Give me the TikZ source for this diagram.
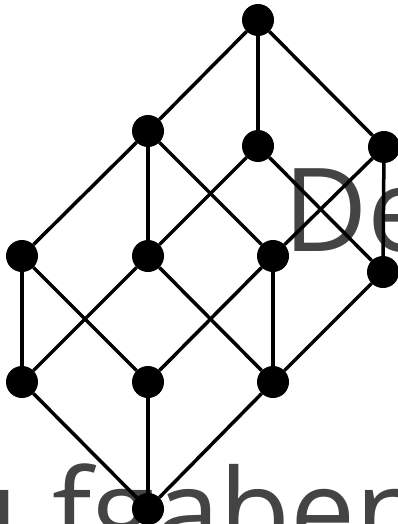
\documentclass[tikz,border=0pt]{standalone}
\usepackage{fontspec}
\setmainfont{Open Sans}
\definecolor{txtgray}{HTML}{444444}
\begin{document}
\begin{tikzpicture}[x=1pt,y=-1pt,
  dot/.style={circle,fill=black,minimum size=32pt,inner sep=0pt},
  edge/.style={line width=3.5pt,black},
  bigtext/.style={text=txtgray,font=\fontsize{116}{116}\selectfont,inner sep=0pt}]
\useasboundingbox (0,0) rectangle (398,524);
\clip (0,0) rectangle (398,524);
\node[bigtext,anchor=base west] (t1) at (283,251) {De};
\node[bigtext,anchor=base east] (t2) at (19,552) {u};
\node[bigtext,anchor=base west] (t3) at (52,552) {fgaben};
\node[dot] (a) at (258,20) {};
\node[dot] (b1) at (148,131) {};
\node[dot] (b2) at (258,146) {};
\node[dot] (b3) at (384,147) {};
\node[dot] (c1) at (22,256) {};
\node[dot] (c2) at (148,256) {};
\node[dot] (c3) at (273,256) {};
\node[dot] (c4) at (383,272) {};
\node[dot] (d1) at (22,382) {};
\node[dot] (d2) at (148,382) {};
\node[dot] (d3) at (273,382) {};
\node[dot] (e) at (148,509) {};
\draw[edge] (a) -- (b1); \draw[edge] (a) -- (b2); \draw[edge] (a) -- (b3);
\draw[edge] (b1) -- (c1); \draw[edge] (b1) -- (c2); \draw[edge] (b1) -- (c3);
\draw[edge] (b2) -- (c2); \draw[edge] (b2) -- (c4);
\draw[edge] (b3) -- (c3); \draw[edge] (b3) -- (c4);
\draw[edge] (c1) -- (d1); \draw[edge] (c1) -- (d2);
\draw[edge] (c2) -- (d1); \draw[edge] (c2) -- (d3);
\draw[edge] (c3) -- (d2); \draw[edge] (c3) -- (d3);
\draw[edge] (c4) -- (d3);
\draw[edge] (d1) -- (e); \draw[edge] (d2) -- (e); \draw[edge] (d3) -- (e);
\end{tikzpicture}
\end{document}
